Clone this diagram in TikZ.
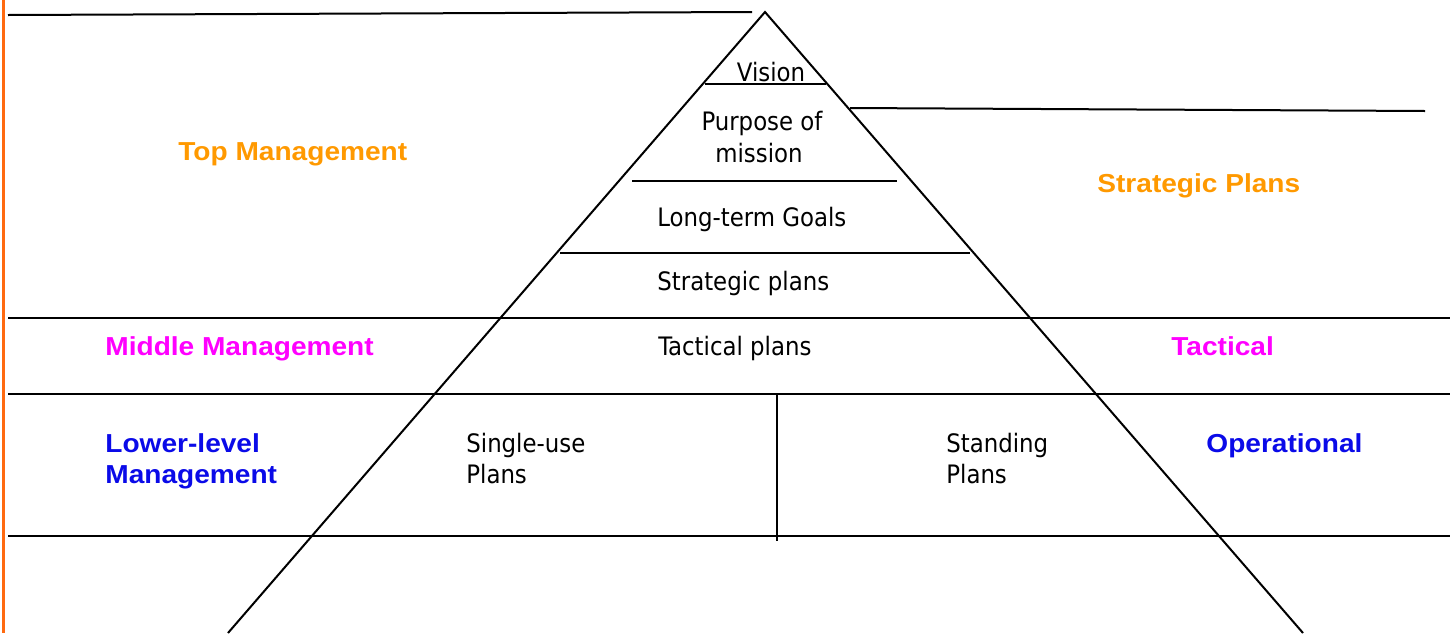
\documentclass[tikz,border=0pt]{standalone}
\usepackage{fontspec}
\setmainfont{DejaVu Sans Condensed}
\newfontfamily\labfont[FakeStretch=1.08]{Liberation Sans}
\definecolor{orangetxt}{HTML}{FF9900}
\definecolor{magtxt}{HTML}{FF00FF}
\definecolor{bluetxt}{HTML}{0A0AE8}
\definecolor{barorange}{HTML}{FF6A10}
\begin{document}
\begin{tikzpicture}[x=0.5pt,y=-0.5pt,
  ln/.style={line width=1pt,black},
  body/.style={inner sep=0pt,font=\fontsize{12.7pt}{16pt}\selectfont,text=black},
  lab/.style={inner sep=0pt,font=\labfont\bfseries\fontsize{13pt}{16pt}\selectfont}]
\useasboundingbox (0,0) rectangle (1453,633);
% left orange bar
\draw[barorange,line width=1.5pt] (3,0) -- (3,633);
% pyramid
\coordinate (apex) at (765,12);
\coordinate (bl) at (228,633);
\coordinate (br) at (1303,633);
\draw[ln] (bl) -- (apex) -- (br);
% top-left and right leader lines
\draw[ln] (8,15) -- (752,12);
\draw[ln] (850,108) -- (1425,111);
% inner pyramid dividers
\draw[ln] (705,84) -- (826,84);
\draw[ln] (632,181) -- (897,181);
\draw[ln] (560,253) -- (970,253);
% full-width band lines
\draw[ln] (8,318) -- (1450,318);
\draw[ln] (8,394) -- (1450,394);
\draw[ln] (8,536) -- (1450,536);
\draw[ln] (777,394) -- (777,541);
% pyramid texts
\node[body,anchor=base] (vision) at (771,81) {Vision};
\node[body,anchor=base] (purpose) at (762,130) {Purpose of};
\node[body,anchor=base] (mission) at (759,162) {mission};
\node[body,anchor=base west] (ltg) at (657,226) {Long-term Goals};
\node[body,anchor=base west] (sp) at (657,290) {Strategic plans};
\node[body,anchor=base west] (tp) at (658,355) {Tactical plans};
\node[body,anchor=base west] (su1) at (466,452) {Single-use};
\node[body,anchor=base west] (su2) at (466,483) {Plans};
\node[body,anchor=base west] (st1) at (946,452) {Standing};
\node[body,anchor=base west] (st2) at (946,483) {Plans};
% side labels
\node[lab,text=orangetxt,anchor=base west] (topm) at (178,160) {Top Management};
\node[lab,text=orangetxt,anchor=base west] (stratp) at (1097,192) {Strategic Plans};
\node[lab,text=magtxt,anchor=base west] (midm) at (105,355) {Middle Management};
\node[lab,text=magtxt,anchor=base west] (tact) at (1171,355) {Tactical};
\node[lab,text=bluetxt,anchor=base west] (low1) at (105,452) {Lower-level};
\node[lab,text=bluetxt,anchor=base west] (low2) at (105,483) {Management};
\node[lab,text=bluetxt,anchor=base west] (oper) at (1206,452) {Operational};
\end{tikzpicture}
\end{document}
